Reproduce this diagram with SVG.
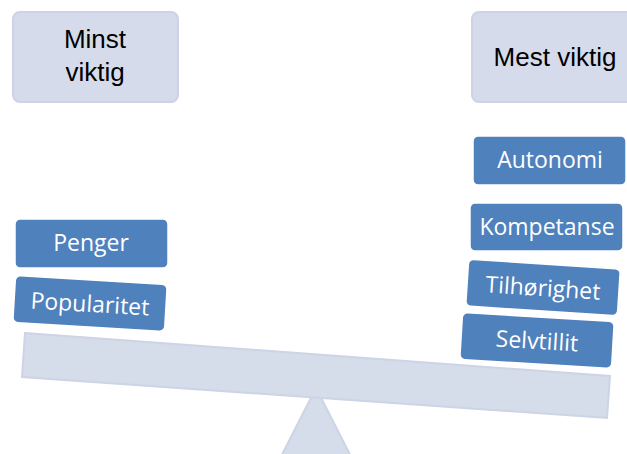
<svg xmlns="http://www.w3.org/2000/svg" width="627" height="454" viewBox="0 0 627 454">
<style>
.hdr{fill:#d5dbea;stroke:#cbd3e5;stroke-width:2}
.hdrt{font-family:"Liberation Sans",Arial,sans-serif;font-size:26px;fill:#000;text-anchor:middle}
.blk{fill:#4f81bd;stroke:#ffffff;stroke-width:1.5}
.blkt{font-family:"Open Sans","Liberation Sans",Arial,sans-serif;font-size:23px;fill:#fff;text-anchor:middle}
.lever{fill:#d5dcea;stroke:#ccd4e6;stroke-width:2}
</style>
<g id="fulcrum">
<polygon class="lever" points="316,388 270,478 362,478"/>
</g>
<g id="beam">
<polygon class="lever" points="25,333 610,376 607,418 22,377"/>
</g>
<g id="minst">
<rect class="hdr" x="13" y="12" width="165" height="90" rx="7"/>
<text class="hdrt" x="95" y="48">Minst</text>
<text class="hdrt" x="95" y="81">viktig</text>
</g>
<g id="mest">
<rect class="hdr" x="472" y="12" width="170" height="90" rx="7"/>
<text class="hdrt" x="555" y="66">Mest viktig</text>
</g>
<g id="penger">
<rect class="blk" x="15" y="219" width="153" height="49" rx="5"/>
<text class="blkt" x="91" y="251">Penger</text>
</g>
<g id="popularitet" transform="rotate(3.4 90 304)">
<rect class="blk" x="14" y="280" width="152" height="47" rx="5"/>
<text class="blkt" x="90" y="312">Popularitet</text>
</g>
<g id="autonomi">
<rect class="blk" x="473" y="136" width="153" height="49" rx="5"/>
<text class="blkt" x="550" y="168">Autonomi</text>
</g>
<g id="kompetanse">
<rect class="blk" x="470" y="203" width="153" height="48" rx="5"/>
<text class="blkt" x="547" y="235">Kompetanse</text>
</g>
<g id="tilhorighet" transform="rotate(3.7 543 288)">
<rect class="blk" x="467" y="264" width="152" height="47" rx="5"/>
<text class="blkt" x="543" y="296">Tilhørighet</text>
</g>
<g id="selvtillit" transform="rotate(3.4 537 341)">
<rect class="blk" x="461" y="317" width="152" height="47" rx="5"/>
<text class="blkt" x="537" y="349">Selvtillit</text>
</g>
</svg>
